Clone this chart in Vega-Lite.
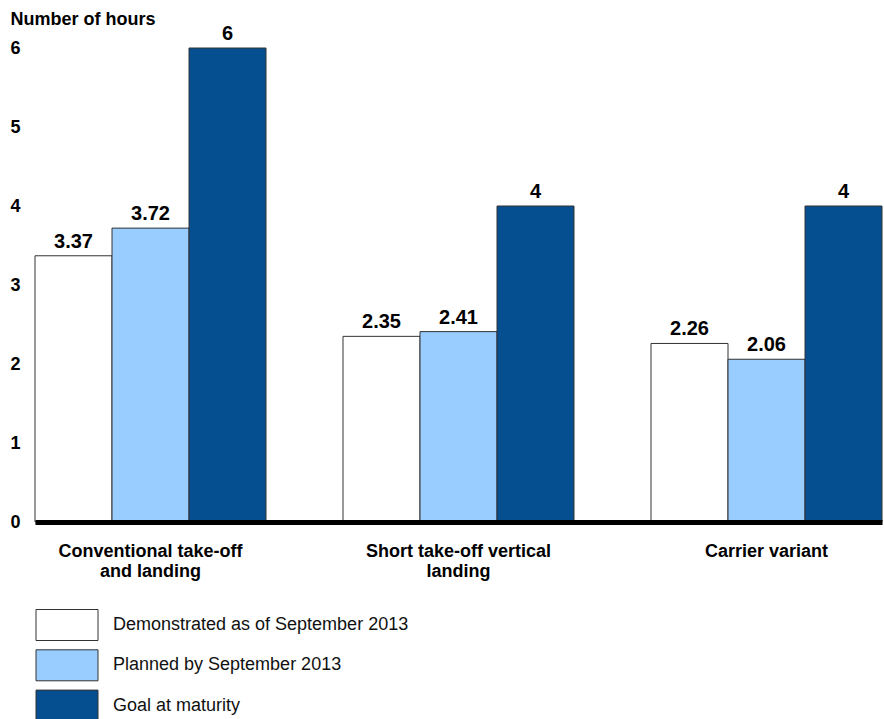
{
  "$schema": "https://vega.github.io/schema/vega-lite/v6.json",
  "width": 847,
  "height": 474,
  "autosize": {"type": "none"},
  "padding": {"left": 35, "top": 48, "right": 2, "bottom": 197},
  "background": "white",
  "config": {
    "view": {"stroke": null},
    "font": "Liberation Sans",
    "text": {"font": "Liberation Sans"}
  },
  "data": {
    "values": [
      {"variant": "Conventional take-off and landing", "series": "Demonstrated as of September 2013", "hours": 3.37},
      {"variant": "Conventional take-off and landing", "series": "Planned by September 2013", "hours": 3.72},
      {"variant": "Conventional take-off and landing", "series": "Goal at maturity", "hours": 6},
      {"variant": "Short take-off vertical landing", "series": "Demonstrated as of September 2013", "hours": 2.35},
      {"variant": "Short take-off vertical landing", "series": "Planned by September 2013", "hours": 2.41},
      {"variant": "Short take-off vertical landing", "series": "Goal at maturity", "hours": 4},
      {"variant": "Carrier variant", "series": "Demonstrated as of September 2013", "hours": 2.26},
      {"variant": "Carrier variant", "series": "Planned by September 2013", "hours": 2.06},
      {"variant": "Carrier variant", "series": "Goal at maturity", "hours": 4}
    ]
  },
  "encoding": {
    "x": {
      "field": "variant",
      "type": "nominal",
      "sort": ["Conventional take-off and landing", "Short take-off vertical landing", "Carrier variant"],
      "scale": {"paddingInner": 0.25, "paddingOuter": 0},
      "axis": {
        "title": null,
        "labelAngle": 0,
        "ticks": false,
        "domain": true,
        "domainColor": "black",
        "domainWidth": 5,
        "zindex": 1,
        "labelFont": "Liberation Sans",
        "labelFontSize": 18,
        "labelFontWeight": "bold",
        "labelColor": "black",
        "labelPadding": 20,
        "labelLineHeight": 20,
        "labelLimit": 400,
        "labelExpr": "datum.value == 'Conventional take-off and landing' ? ['Conventional take-off', 'and landing'] : datum.value == 'Short take-off vertical landing' ? ['Short take-off vertical', 'landing'] : datum.value"
      }
    },
    "xOffset": {
      "field": "series",
      "type": "nominal",
      "sort": ["Demonstrated as of September 2013", "Planned by September 2013", "Goal at maturity"],
      "scale": {"paddingInner": 0, "paddingOuter": 0}
    },
    "y": {
      "field": "hours",
      "type": "quantitative",
      "scale": {"domain": [0, 6], "nice": false},
      "axis": {
        "values": [0, 1, 2, 3, 4, 5, 6],
        "grid": false,
        "domain": false,
        "ticks": false,
        "tickSize": 0,
        "labelAlign": "left",
        "labelPadding": 25,
        "labelFont": "Liberation Sans",
        "labelFontSize": 18,
        "labelFontWeight": "bold",
        "labelColor": "black",
        "title": "Number of hours",
        "titleAngle": 0,
        "titleAlign": "left",
        "titleBaseline": "alphabetic",
        "titleX": -25,
        "titleY": -24,
        "titleFont": "Liberation Sans",
        "titleFontSize": 18,
        "titleFontWeight": "bold",
        "titleColor": "black"
      }
    }
  },
  "layer": [
    {
      "mark": {"type": "bar", "stroke": "#333333", "strokeWidth": 1},
      "encoding": {
        "color": {
          "field": "series",
          "type": "nominal",
          "sort": ["Demonstrated as of September 2013", "Planned by September 2013", "Goal at maturity"],
          "scale": {
            "domain": ["Demonstrated as of September 2013", "Planned by September 2013", "Goal at maturity"],
            "range": ["#ffffff", "#99ccff", "#054f91"]
          },
          "legend": {
            "title": null,
            "orient": "none",
            "legendX": 16,
            "legendY": 561,
            "direction": "vertical",
            "padding": 0,
            "symbolType": "M-2,-1H2V1H-2Z",
            "symbolSize": 961,
            "symbolStrokeColor": "#333333",
            "symbolStrokeWidth": 1,
            "symbolOpacity": 1,
            "labelFont": "Liberation Sans",
            "labelFontSize": 18,
            "labelColor": "#111111",
            "labelOffset": 30,
            "labelLimit": 500,
            "rowPadding": 4.3
          }
        }
      }
    },
    {
      "mark": {"type": "text", "baseline": "alphabetic", "dy": -8, "fontSize": 20, "fontWeight": "bold", "font": "Liberation Sans", "color": "black"},
      "encoding": {
        "text": {"field": "hours", "type": "quantitative"}
      }
    }
  ]
}
